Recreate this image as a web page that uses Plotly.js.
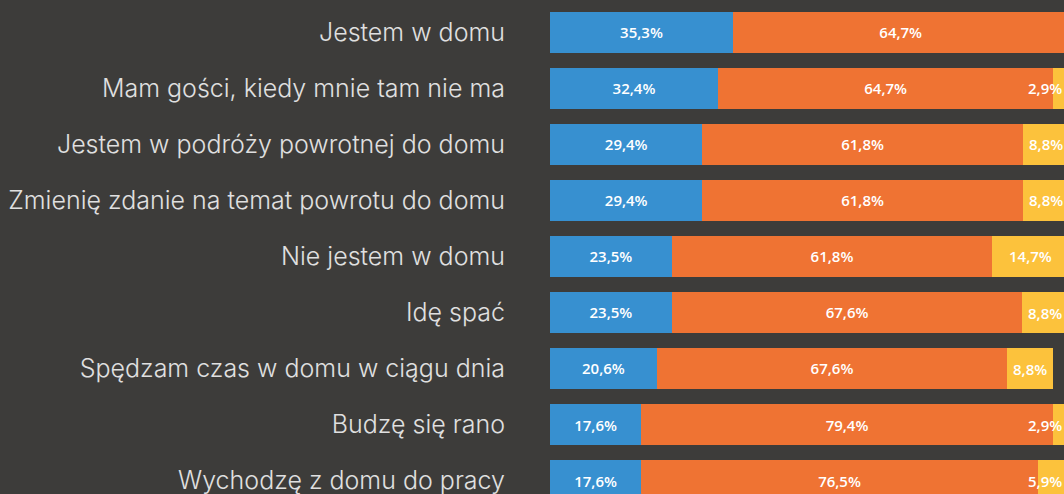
<!DOCTYPE html>
<html>
<head>
<meta charset="utf-8">
<script src="https://cdn.plot.ly/plotly-3.0.1.min.js"></script>
<style>
html,body{margin:0;padding:0;background:#3d3c3a;}
#chart{width:1064px;height:494px;}
</style>
</head>
<body>
<div id="chart"></div>
<script>
const categories = [
  "Jestem w domu",
  "Mam gości, kiedy mnie tam nie ma",
  "Jestem w podróży powrotnej do domu",
  "Zmienię zdanie na temat powrotu do domu",
  "Nie jestem w domu",
  "Idę spać",
  "Spędzam czas w domu w ciągu dnia",
  "Budzę się rano",
  "Wychodzę z domu do pracy"
];
const blueValues   = [35.3, 32.4, 29.4, 29.4, 23.5, 23.5, 20.6, 17.6, 17.6];
const orangeValues = [64.7, 64.7, 61.8, 61.8, 61.8, 67.6, 67.6, 79.4, 76.5];
const yellowValues = [0.0, 2.9, 8.8, 8.8, 14.7, 8.8, 8.8, 2.9, 5.9];

const XMAX = 99.15;
const fmt = v => v.toFixed(1).replace('.', ',') + '%';
const labelFont = {family: 'Open Sans', size: 15, color: '#ffffff', weight: 600};

function barTrace(vals, color) {
  return {
    type: 'bar', orientation: 'h',
    y: categories, x: vals,
    marker: {color: color, line: {width: 0}},
    text: vals.map(fmt),
    textposition: 'inside', insidetextanchor: 'middle',
    constraintext: 'none', textangle: 0,
    textfont: labelFont,
    hoverinfo: 'skip', cliponaxis: true
  };
}

const traces = [
  barTrace(blueValues, '#3790d0'),
  barTrace(orangeValues, '#ef7333'),
  Object.assign(barTrace(yellowValues, '#fcc23c'), {text: yellowValues.map(() => ''), textposition: 'none'})
];

// yellow labels: centered when they fit, otherwise held at the visible right edge
const annotations = [];
yellowValues.forEach((v, i) => {
  if (v <= 0) return;
  const start = blueValues[i] + orangeValues[i];
  const fits = v >= 7;
  annotations.push({
    x: fits ? start + v / 2 : XMAX,
    y: categories[i],
    xref: 'x', yref: 'y',
    text: fmt(v),
    showarrow: false,
    xanchor: fits ? 'center' : 'right',
    yanchor: 'middle',
    font: labelFont
  });
});

const layout = {
  width: 1064, height: 494,
  margin: {l: 550, r: 0, t: 0, b: 0, pad: 0},
  paper_bgcolor: '#3d3c3a', plot_bgcolor: '#3d3c3a',
  barmode: 'stack', bargap: 0.268,
  showlegend: false,
  xaxis: {range: [0, XMAX], showgrid: false, zeroline: false, showticklabels: false, fixedrange: true},
  yaxis: {
    type: 'category', range: [8.241, -0.580],
    showgrid: false, zeroline: false, ticks: '',
    ticklabelstandoff: 44,
    tickfont: {family: 'Inter', size: 25, color: '#e0e0e0', weight: 300},
    fixedrange: true
  },
  annotations: annotations,
  font: {family: 'Open Sans'}
};

Plotly.newPlot('chart', traces, layout, {displayModeBar: false, staticPlot: true});
</script>
</body>
</html>
